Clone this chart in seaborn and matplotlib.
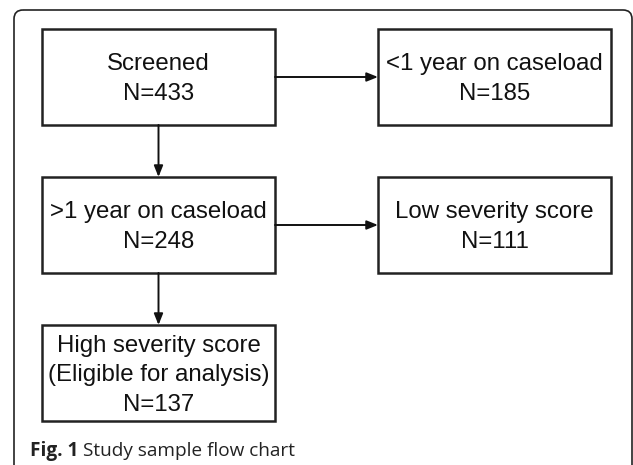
import matplotlib.pyplot as plt
import seaborn as sns
from matplotlib.patches import FancyBboxPatch, Rectangle

# Flow chart content
stage_titles = ['Screened', '<1 year on caseload', '>1 year on caseload',
                'Low severity score', 'High severity score\n(Eligible for analysis)']
stage_counts = [433, 185, 248, 111, 137]
# arrows: (from stage, to stage)
links = [(0, 1), (0, 2), (2, 3), (2, 4)]

caption_bold = 'Fig. 1'
caption_text = 'Study sample flow chart'

# Layout in pixel units (x right, y down)
box_w, box_h = 233, 96
box_xy = [(42, 29), (378, 29), (42, 177), (378, 177), (42, 325)]
line_gap = 29.5

sns.set_theme(style='white')
plt.rcParams['font.family'] = ['Liberation Sans', 'DejaVu Sans']

fig = plt.figure(figsize=(6.33, 4.65), dpi=100)
ax = fig.add_axes([0, 0, 1, 1])
ax.set_xlim(0, 633)
ax.set_ylim(465, 0)
ax.axis('off')

# outer panel frame
frame = FancyBboxPatch((14, 10), 618, 500, boxstyle='round,pad=0,rounding_size=9',
                       fill=False, ec='#222222', lw=1.2, clip_on=False)
ax.add_patch(frame)

for (x, y), title, n in zip(box_xy, stage_titles, stage_counts):
    ax.add_patch(Rectangle((x, y), box_w, box_h, fill=False, ec='#222222', lw=1.8))
    lines = title.split('\n') + [f'N={n}']
    cy = y + box_h / 2 + 2
    start = cy - line_gap * (len(lines) - 1) / 2
    for i, t in enumerate(lines):
        ax.text(x + box_w / 2, start + i * line_gap, t, ha='center', va='center',
                fontsize=17.3, color='#111111')

for a, b in links:
    ax_, ay = box_xy[a]
    bx, by = box_xy[b]
    if ay == by:
        p0 = (ax_ + box_w, ay + box_h / 2)
        p1 = (bx, by + box_h / 2)
    else:
        p0 = (ax_ + box_w / 2, ay + box_h)
        p1 = (bx + box_w / 2, by)
    ax.annotate('', xy=p1, xytext=p0,
                arrowprops=dict(arrowstyle='-|>,head_length=0.55,head_width=0.22',
                                color='#111111', lw=1.4, shrinkA=0, shrinkB=0))

cap = ax.text(30, 450.5, caption_bold + ' ', ha='left', va='center', fontsize=13.7,
              fontweight='bold', family=['Open Sans', 'DejaVu Sans'], color='#222222')
fig.canvas.draw()
bb = cap.get_window_extent().transformed(ax.transData.inverted())
ax.text(bb.x1, 450.5, caption_text, ha='left', va='center', fontsize=13.7,
        family=['Open Sans', 'DejaVu Sans'], color='#222222')

fig.savefig('out.png', dpi=100)
